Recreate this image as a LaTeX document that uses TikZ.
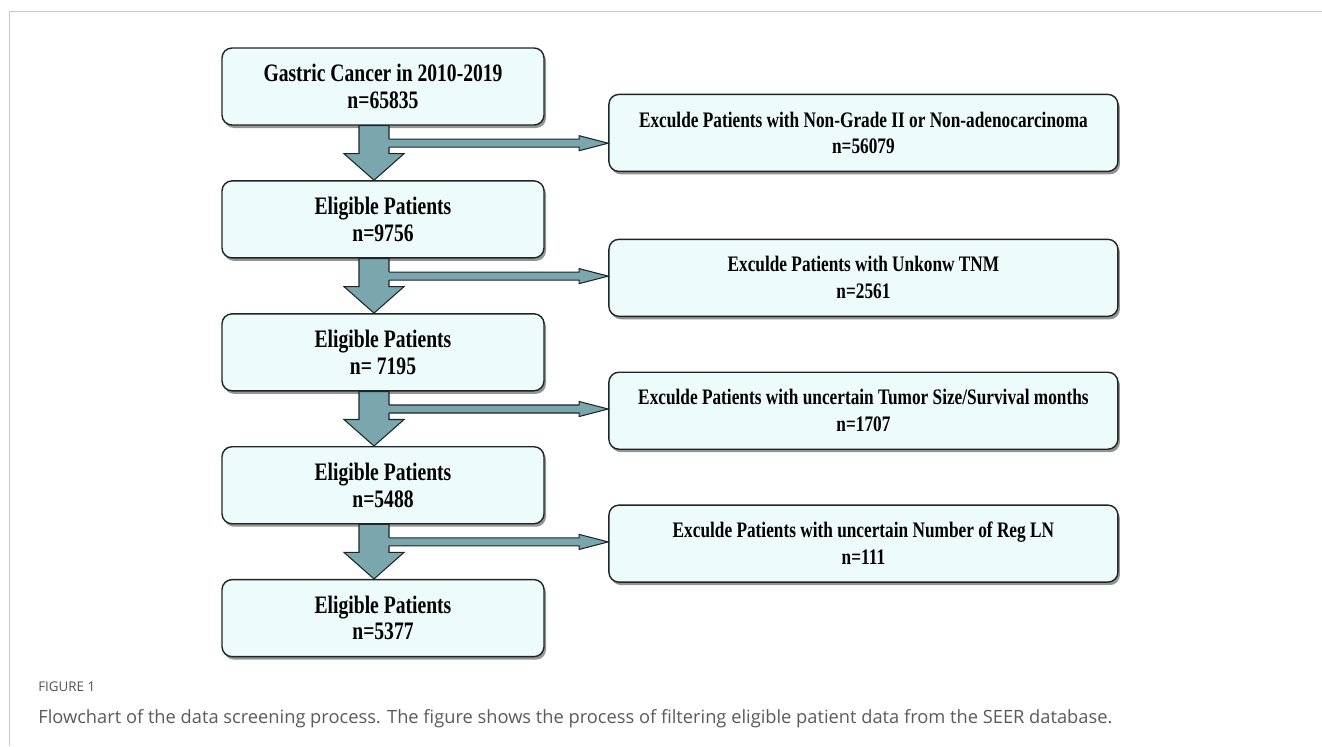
\documentclass[tikz,border=0pt]{standalone}
\usepackage{fontspec}
\usetikzlibrary{positioning,calc,shadows}
\newfontfamily\boxfont[FakeStretch=0.78]{Liberation Serif}
\newfontfamily\capfont{Open Sans}
\definecolor{boxfill}{HTML}{EEFBFB}
\definecolor{arrowfill}{HTML}{7AA6AD}
\definecolor{edge}{HTML}{1E2526}
\definecolor{capgrey}{HTML}{5A5A5A}
\definecolor{framegrey}{HTML}{C8C8C8}
\tikzset{keepbox/.style={rectangle,rounded corners=0.2cm,draw=edge,line width=0.8pt,fill=boxfill,
	 minimum width=6.44cm,minimum height=1.54cm,align=center,
	 font=\boxfont\bfseries\fontsize{14.3}{15.1}\selectfont,
	 drop shadow={shadow xshift=0.04cm,shadow yshift=-0.06cm,fill=black!70,opacity=0.6}},
	 dropbox/.style={keepbox,minimum width=10.18cm,font=\boxfont\bfseries\fontsize{12.6}{15.3}\selectfont},
	 blockarrow/.style={fill=arrowfill,draw=edge,line width=0.6pt,line join=miter},
	 capfig/.style={font=\capfont\fontsize{7.6}{9}\selectfont,text=capgrey!90!black,inner sep=0pt},
	 captext/.style={font=\capfont\fontsize{10.4}{12}\selectfont,text=capgrey,inner sep=0pt},
	 node distance = 1.09
	 }
% fat arrow down from #1 to #2, thin branch to #3
\newcommand{\splitarrow}[3]{%
	\coordinate (#1-c) at ($(#1.south)+(-0.18,0)$);
	\coordinate (#1-h) at ($(#1-c)+(0,-0.56)$);
	\filldraw[blockarrow] ($(#1-c)+(-0.3,0)$) -- ($(#1-h)+(-0.3,0)$) -- ($(#1-h)+(-0.6,0)$)
	  -- (#1-c |- #2.north) -- ($(#1-h)+(0.6,0)$) -- ($(#1-h)+(0.3,0)$) -- ($(#1-c)+(0.3,0)$) -- cycle;
	\coordinate (#1-s) at ($(#1-c)+(0.3,-0.35)$);
	\coordinate (#1-t) at (#3.west |- #1-s);
	\coordinate (#1-b) at ($(#1-t)+(-0.58,0)$);
	\fill[arrowfill] ($(#1-s)+(-0.03,0.08)$) -- ($(#1-b)+(0,0.08)$) -- ($(#1-b)+(0,0.15)$) -- (#1-t)
	  -- ($(#1-b)+(0,-0.15)$) -- ($(#1-b)+(0,-0.08)$) -- ($(#1-s)+(-0.03,-0.08)$) -- cycle;
	\draw[blockarrow,fill=none] ($(#1-s)+(0,0.08)$) -- ($(#1-b)+(0,0.08)$) -- ($(#1-b)+(0,0.15)$) -- (#1-t)
	  -- ($(#1-b)+(0,-0.15)$) -- ($(#1-b)+(0,-0.08)$) -- ($(#1-s)+(0,-0.08)$);
}

\begin{document}
\begin{tikzpicture}
	\useasboundingbox (0,0) rectangle (26.44,-14.92);
	\draw[framegrey,line width=0.8pt] (0.19,-14.92) -- (0.19,-0.234) -- (26.44,-0.234);
	% main column
	\node[keepbox] (e1) at (7.66,-1.73) {Gastric Cancer in 2010-2019\\n=65835};
	\node[keepbox] (e2) [below= of e1] {Eligible Patients\\n=9756};
	\node[keepbox] (e3) [below= of e2] {Eligible Patients\\n= 7195};
	\node[keepbox] (e4) [below= of e3] {Eligible Patients\\n=5488};
	\node[keepbox] (e5) [below= of e4] {Eligible Patients\\n=5377};
	% excluded
	\node[dropbox] (x1) [below right=-0.64 and 1.27 of e1.south east] {Exculde Patients with Non-Grade II or Non-adenocarcinoma\\n=56079};
	\node[dropbox] (x2) [below right=-0.4 and 1.27 of e2.south east] {Exculde Patients with Unkonw TNM\\n=2561};
	\node[dropbox] (x3) [below right=-0.4 and 1.27 of e3.south east] {Exculde Patients with uncertain Tumor Size/Survival months\\n=1707};
	\node[dropbox] (x4) [below right=-0.4 and 1.27 of e4.south east] {Exculde Patients with uncertain Number of Reg LN\\n=111};
	\splitarrow{e1}{e2}{x1}
	\splitarrow{e2}{e3}{x2}
	\splitarrow{e3}{e4}{x3}
	\splitarrow{e4}{e5}{x4}
	% caption
	\node[capfig,anchor=base west] (figno) at (0.76,-13.82) {FIGURE 1};
	\node[captext,anchor=base west] (caption) at (0.76,-14.46) {Flowchart of the data screening process. The figure shows the process of filtering eligible patient data from the SEER database.};
\end{tikzpicture}
\end{document}
